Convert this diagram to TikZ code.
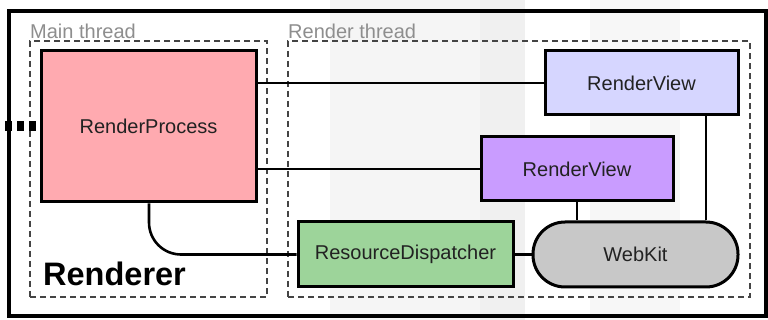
\documentclass[tikz,border=0pt]{standalone}
\usepackage{fontspec}
\setmainfont{Liberation Sans}
\definecolor{rpfill}{HTML}{FFAAB0}
\definecolor{rvafill}{HTML}{D6D6FF}
\definecolor{rvbfill}{HTML}{C99CFF}
\definecolor{rdfill}{HTML}{9DD49A}
\definecolor{wkfill}{HTML}{C8C8C8}
\definecolor{txt}{HTML}{222222}
\definecolor{lblgray}{HTML}{8E8E8E}
\definecolor{dashgray}{HTML}{444444}
\begin{document}
\begin{tikzpicture}[x=1pt,y=-1pt,
  box/.style={draw=black, line width=3pt, rectangle, inner sep=0pt, text=txt,
    font=\fontsize{20}{24}\selectfont},
  pill/.style={box, rounded corners=32pt},
  conn/.style={draw=black, line width=2.6pt},
  threadbox/.style={draw=dashgray, line width=2pt, dash pattern=on 6pt off 4pt, inner sep=0pt},
  lbl/.style={text=lblgray, font=\fontsize{20}{24}\selectfont, inner sep=0pt, anchor=base west}]
\useasboundingbox (0,0) rectangle (768,320);
% faint background bands
\fill[black!4] (330,0) rectangle (480,320);
\fill[black!6] (480,0) rectangle (525,320);
\fill[black!3] (590,0) rectangle (680,320);
\fill[white] (12,13) rectangle (330,314);
% outer frame
\draw[line width=4pt] (9,11) rectangle (766,316);
% thread containers
\node[threadbox, minimum width=237pt, minimum height=256pt] (mainthr) at (148.5,169) {};
\node[threadbox, minimum width=462pt, minimum height=256pt] (renderthr) at (519,169) {};
\node[lbl] (mainlbl) at (30,39) {Main thread};
\node[lbl] (renderlbl) at (288,39) {Render thread};
% components
\node[box, fill=rpfill, minimum width=215pt, minimum height=151pt] (rp) at (148.5,126.5) {RenderProcess};
\node[box, fill=rvafill, minimum width=193pt, minimum height=64pt] (rva) at (641.5,83) {RenderView};
\node[box, fill=rvbfill, minimum width=192pt, minimum height=64pt] (rvb) at (577,169) {RenderView};
\node[box, fill=rdfill, minimum width=215pt, minimum height=65pt] (rd) at (405.5,254.5) {ResourceDispatcher};
\node[pill, fill=wkfill, minimum width=205pt, minimum height=65pt] (wk) at (635.5,254.5) {WebKit};
\node[anchor=base west, inner sep=0pt, text=black, font=\bfseries\fontsize{32.5}{38}\selectfont] (renderer) at (43,286) {Renderer};
% connectors
\coordinate (lin) at (0,125);
\coordinate (cx) at (149,0);
\coordinate (rvx) at (706,0);
\draw[line width=10pt, dash pattern=on 7pt off 5pt, dash phase=8pt] (rp.west) -- (rp.west -| lin);
\draw[conn] (rp.east |- rva.west) -- (rva.west);
\draw[conn] (rp.east |- rvb.west) -- (rvb.west);
\draw[conn] (rd.east) -- (wk.west);
\draw[conn] (rvb.south) -- (rvb.south |- wk.north);
\draw[conn] (rva.south -| rvx) -- (wk.north -| rvx);
\draw[conn, rounded corners=32pt] (rp.south -| cx) |- (rd.west);
\end{tikzpicture}
\end{document}
